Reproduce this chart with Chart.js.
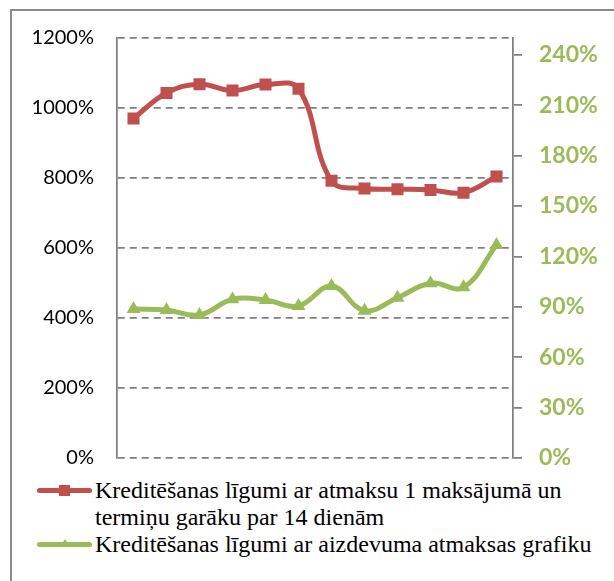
<!DOCTYPE html>
<html><head><meta charset="utf-8">
<script src="https://cdn.jsdelivr.net/npm/chart.js@4/dist/chart.umd.min.js"></script>
<style>
html,body{margin:0;padding:0;background:#fff;width:614px;height:581px;overflow:hidden;}
#frame{position:absolute;left:10px;top:9px;width:700px;height:700px;border:2px solid #8a8a8a;box-sizing:border-box}
#c{position:absolute;left:0;top:0;width:614px;height:470px}
#legend{position:absolute;left:37px;top:477px;font-family:"Liberation Serif","Times New Roman",serif;font-size:24px;line-height:27px;color:#000}
.item{display:flex;align-items:flex-start}
.mk{position:relative;width:55px;height:27px;flex:none;margin-right:3px}
.mk .ln{position:absolute;left:0;right:0;top:11px;height:5px;border-radius:2.5px}
.mk .sq{position:absolute;left:22px;top:8px;width:11px;height:11px}
.mk .tri{position:absolute;left:23px;top:8px;width:0;height:0;border-left:5px solid transparent;border-right:5px solid transparent;border-bottom:8px solid}
.txt{width:518px}
</style>
</head><body>
<div id="frame"></div>
<canvas id="c" width="614" height="470"></canvas>
<div id="legend"></div>
<script>
const categories = ["1","2","3","4","5","6","7","8","9","10","11","12"];
const seriesNames = [
  "Kreditēšanas līgumi ar atmaksu 1 maksājumā un termiņu garāku par 14 dienām",
  "Kreditēšanas līgumi ar aizdevuma atmaksas grafiku"
];
const singlePayment = [970, 1043, 1068, 1050, 1067, 1055, 792, 770, 768, 766, 758, 804];
const scheduled = [88.7, 88.1, 85.1, 94.5, 94.0, 90.5, 102.4, 87.7, 95.4, 104.0, 101.6, 126.8];
const leftTicks = [0, 200, 400, 600, 800, 1000, 1200];
const rightTicks = [0, 30, 60, 90, 120, 150, 180, 210, 240];

const RED = '#C0504D', GREEN = '#9BBB59', GRID = '#808080';

function fixWidth(w) {
  return s => { s.width = w; s.paddingTop = 0; s.paddingBottom = 0; };
}

const chart = new Chart(document.getElementById('c'), {
  type: 'line',
  data: {
    labels: categories,
    datasets: [
      {label: seriesNames[0], data: singlePayment, yAxisID: 'y', borderColor: RED, backgroundColor: RED,
       borderWidth: 5, pointStyle: 'rect', pointRadius: 8.5, pointBorderWidth: 0, tension: 0.4},
      {label: seriesNames[1], data: scheduled, yAxisID: 'y2', borderColor: GREEN, backgroundColor: GREEN,
       borderWidth: 5, pointStyle: 'triangle', pointRadius: 8, pointBorderWidth: 0, tension: 0.4}
    ]
  },
  options: {
    responsive: false, animation: false,
    layout: {padding: {top: 38, bottom: 12, left: 0, right: 0}},
    plugins: {legend: {display: false}, tooltip: {enabled: false}},
    scales: {
      x: {display: false, offset: true},
      y: {
        position: 'left', min: leftTicks[0], max: leftTicks[leftTicks.length - 1],
        afterBuildTicks: s => { s.ticks = leftTicks.map(v => ({value: v})); },
        afterFit: fixWidth(117),
        ticks: {callback: v => v + '%', color: '#000', font: {family: 'Lato', size: 20}, padding: 23},
        grid: {color: GRID, lineWidth: 1.75, drawTicks: false},
        border: {display: true, color: GRID, width: 1.75, dash: [7, 5]}
      },
      y2: {
        position: 'right', min: 0, max: 250,
        afterBuildTicks: s => { s.ticks = rightTicks.map(v => ({value: v})); },
        afterFit: fixWidth(101),
        ticks: {callback: v => v + '%', color: GREEN, font: {family: 'Lato', size: 23, weight: 'bold'}, padding: 17, includeBounds: false},
        grid: {drawOnChartArea: false, color: GRID, lineWidth: 1.75, tickLength: 9},
        border: {display: true, color: GRID, width: 1.75}
      }
    }
  }
});

const lg = document.getElementById('legend');
chart.data.datasets.forEach((ds, i) => {
  const it = document.createElement('div'); it.className = 'item';
  const mk = document.createElement('div'); mk.className = 'mk';
  const ln = document.createElement('div'); ln.className = 'ln'; ln.style.background = ds.borderColor; mk.appendChild(ln);
  const sym = document.createElement('div');
  if (ds.pointStyle === 'rect') { sym.className = 'sq'; sym.style.background = ds.borderColor; }
  else { sym.className = 'tri'; sym.style.borderBottomColor = ds.borderColor; }
  mk.appendChild(sym);
  const tx = document.createElement('div'); tx.className = 'txt'; tx.textContent = ds.label;
  it.appendChild(mk); it.appendChild(tx); lg.appendChild(it);
});
</script>
</body></html>
